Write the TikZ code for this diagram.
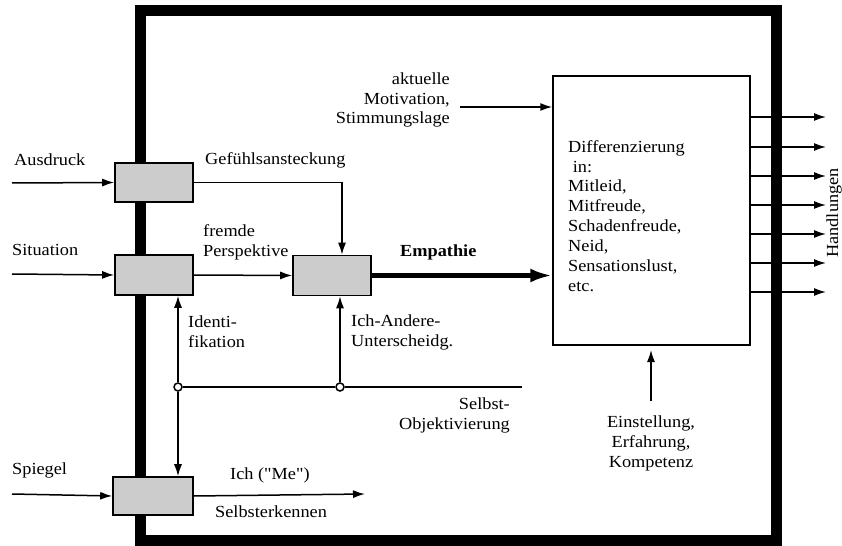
\documentclass[tikz,border=0pt]{standalone}
\usepackage{fontspec}
\setmainfont[FakeStretch=1.08]{Liberation Serif}
\newfontfamily\qfont[FakeStretch=1.08]{Liberation Serif}
\usetikzlibrary{arrows.meta}
\tikzset{
  proc/.style={draw, line width=1.6bp, fill=black!20, minimum width=78bp, minimum height=39bp, inner sep=0pt},
  lbl/.style={inner sep=0pt, align=left},
  arr/.style={line width=1.5bp, -{Latex[length=12bp,width=8bp]}},
  plain/.style={line width=1.5bp},
  junc/.style={circle, draw, fill=white, line width=1.5bp, inner sep=0pt, minimum size=8bp}
}
\begin{document}
\begin{tikzpicture}[x=1bp,y=-1bp, font=\fontsize{17}{20}\selectfont]
\useasboundingbox (0,0) rectangle (842,546);
% frame
\draw[line width=11bp] (140,11) rectangle (776,540);
% boxes
\node[proc] (A) at (154,182.5) {};
\node[proc, minimum height=40bp] (B) at (154,275) {};
\node[proc, minimum height=40bp] (C) at (332,275.5) {};
\node[proc, minimum width=80bp, minimum height=38bp] (D) at (153,496) {};
\node[draw, line width=1.5bp, fill=white, minimum width=197bp, minimum height=269bp, inner sep=0pt] (diff) at (651.5,210.5) {};
\node[lbl, anchor=west] (difftext) at (568,216) {Differenzierung\\\ in:\\Mitleid,\\Mitfreude,\\Schadenfreude,\\Neid,\\Sensationslust,\\etc.};
% junctions
\node[junc] (j1) at (178,387) {};
\node[junc] (j2) at (340,387) {};
% free ends
\coordinate (ausIn) at (12,183);
\coordinate (sitIn) at (12,274);
\coordinate (spIn) at (12,494);
\coordinate (motIn) at (460,107);
\coordinate (selbEnd) at (522,387);
\coordinate (meEnd) at (365,494);
\coordinate (einS) at (651,401);
\coordinate (einE) at (651,350);
% labels
\node[lbl, anchor=west] (tAus) at (14,160) {Ausdruck};
\node[lbl, anchor=west] (tGef) at (205,160) {Gefühlsansteckung};
\node[lbl, anchor=west] (tSit) at (12,250) {Situation};
\node[lbl, anchor=west] (tFre) at (203,242) {fremde\\Perspektive};
\node[lbl, anchor=west, font=\fontsize{17}{20}\selectfont\bfseries] (tEmp) at (400,252) {Empathie};
\node[lbl, anchor=east, align=right] (tMot) at (450,100) {aktuelle\\Motivation,\\Stimmungslage};
\node[lbl, anchor=west] (tIde) at (188,332) {Identi-\\fikation};
\node[lbl, anchor=west] (tIch) at (351,332) {Ich-Andere-\\Unterscheidg.};
\node[lbl, anchor=east, align=right] (tSel) at (510,415) {Selbst-\\Objektivierung};
\node[lbl, anchor=west] (tSpi) at (12,470) {Spiegel};
\node[lbl, anchor=west] (tMe) at (230,475) {Ich ({\qfont"}Me{\qfont"})};
\node[lbl, anchor=west] (tSek) at (215,512) {Selbsterkennen};
\node[lbl, align=center] (tEin) at (651,443) {Einstellung,\\Erfahrung,\\Kompetenz};
\node[inner sep=0pt, rotate=90, anchor=base] (tHan) at (838,213) {Handlungen};
% connectors
\draw[arr] (ausIn) -- (A.west);
\draw[arr] (A.east) -| ([xshift=10bp]C.north);
\draw[arr] (sitIn) -- (B.west);
\draw[arr] (B.east) -- (C.west);
\draw[line width=5bp, -{Latex[length=22bp,width=14bp]}] (C.east) -- (C.east -| diff.west);
\draw[arr] (motIn) -- (motIn -| diff.west);
\foreach \i/\y in {1/117,2/147,3/176,4/205,5/234,6/263,7/292}{
  \coordinate (h\i) at (826,\y);
  \draw[arr] (h\i -| diff.east) -- (h\i);
}
\draw[arr] (j1) -- (j1 |- B.south);
\draw[arr] (j1) -- (j1 |- D.north);
\draw[plain] (j1) -- (j2) -- (selbEnd);
\draw[arr] (j2) -- (j2 |- C.south);
\draw[arr] (spIn) -- (D.west);
\draw[arr] (D.east) -- (meEnd);
\draw[arr] (einS) -- (einE);
\end{tikzpicture}
\end{document}
